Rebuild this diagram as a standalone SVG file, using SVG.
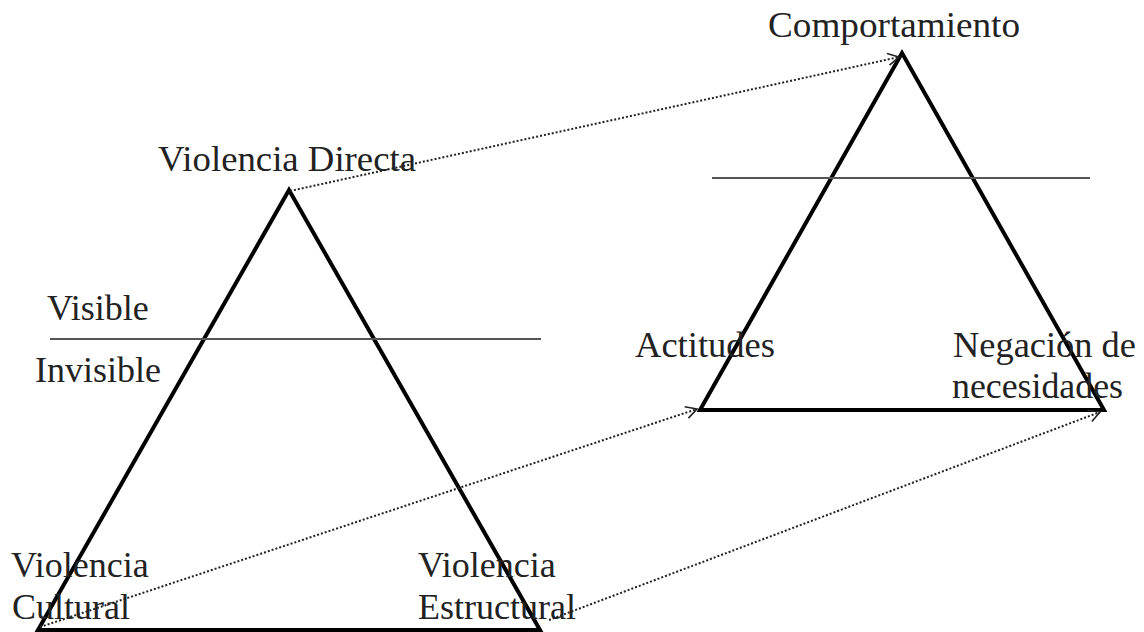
<svg xmlns="http://www.w3.org/2000/svg" width="1144" height="632" viewBox="0 0 1144 632">
<defs>
<style>
.t{font-family:"Liberation Serif","Times New Roman",serif;font-size:36px;fill:#222}
.tri{fill:none;stroke:#000;stroke-width:4;stroke-linejoin:miter}
.hl{stroke:#555;stroke-width:2}
.dot{fill:none;stroke:#222;stroke-width:2;stroke-dasharray:2 2}
</style>
<marker id="ah" markerWidth="14" markerHeight="14" refX="12" refY="7" orient="auto" markerUnits="userSpaceOnUse">
<path d="M1,1 L12,7 L1,13" fill="none" stroke="#222" stroke-width="1.6"/>
</marker>
</defs>
<rect width="1144" height="632" fill="#fff"/>
<g id="left-triangle">
<path class="tri" d="M289,190 L38,630 L540,630 Z"/>
<line class="hl" x1="50" y1="339" x2="541" y2="339"/>
</g>
<g id="right-triangle">
<path class="tri" d="M902,53 L700,410 L1104,410 Z"/>
<line class="hl" x1="712" y1="178" x2="1090" y2="178"/>
</g>
<g id="connectors">
<line class="dot" x1="290" y1="191" x2="899" y2="57" marker-end="url(#ah)"/>
<line class="dot" x1="40" y1="627" x2="697" y2="409" marker-end="url(#ah)"/>
<line class="dot" x1="549" y1="620" x2="1100" y2="412" marker-end="url(#ah)"/>
</g>
<g id="labels">
<text class="t" x="768" y="37" textLength="252" lengthAdjust="spacingAndGlyphs">Comportamiento</text>
<text class="t" x="158" y="171" textLength="258" lengthAdjust="spacingAndGlyphs">Violencia Directa</text>
<text class="t" x="47" y="320">Visible</text>
<text class="t" x="35" y="382">Invisible</text>
<text class="t" x="635" y="357" textLength="140" lengthAdjust="spacingAndGlyphs">Actitudes</text>
<text class="t" x="953" y="357" textLength="183" lengthAdjust="spacingAndGlyphs">Negación de</text>
<text class="t" x="952" y="398" textLength="171" lengthAdjust="spacingAndGlyphs">necesidades</text>
<text class="t" x="11" y="577">Violencia</text>
<text class="t" x="12" y="619">Cultural</text>
<text class="t" x="418" y="577">Violencia</text>
<text class="t" x="418" y="619">Estructural</text>
</g>
</svg>
